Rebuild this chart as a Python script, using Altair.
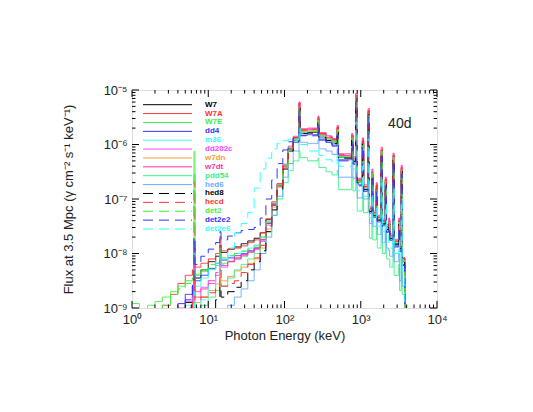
import altair as alt
import pandas as pd

# ---------------- data ----------------
# photon energy grid (keV); narrow bins are the emission lines
energy_kev = [1.0, 1.25, 1.6, 2.0, 2.5, 3.2, 4.0, 5.0, 6.2, 6.5, 6.7, 8.0, 10, 12.5, 14.2, 14.7,
              18, 22, 27, 33, 40, 48, 57, 68, 80, 95, 112, 130, 155, 160, 200, 275, 283, 350,
              420, 490, 510, 760, 790, 860, 900, 1050, 1090, 1250, 1300, 1400, 1440, 1600, 1650,
              1850, 1920, 2100, 2170, 2330, 2400, 2650, 2740, 3150, 3230, 3400, 3500, 3780]

# log10 flux (gamma cm^-2 s^-1 keV^-1) per series
W7 = [-9.8, -9.8, -9.8, -9.7, -9.5, -9.3, -9.1, -8.9, -8.6, -8.3, -8.45, -8.3, -8.15, -8.05, -7.85, -7.98,
      -7.92, -7.88, -7.82, -7.77, -7.72, -7.62, -7.38, -7.08, -6.75, -6.42, -6.12,
      -5.93, -5.32, -5.79, -5.78, -5.58, -5.86, -5.92, -5.97, -5.75, -6.24, -5.9, -6.3, -5.15, -6.7, -5.98,
      -6.82, -5.44, -7.22, -6.55, -7.3, -6.8, -7.38, -6.15, -7.45, -6.7, -7.55, -7.45, -7.72, -6.26, -7.82,
      -7.45, -7.9, -6.48, -8.15, -10]
W7A = [-9.8, -9.7, -9.5, -9.2, -8.95, -8.75, -8.55, -8.4, -8.3, -7.9, -8.25, -8.18, -8.1, -8.0, -7.69, -7.95,
       -7.92, -7.9, -7.86, -7.8, -7.75, -7.62, -7.36, -7.05, -6.72, -6.38, -6.08,
       -5.89, -5.25, -5.74, -5.73, -5.52, -5.81, -5.87, -5.92, -5.7, -6.2, -5.84, -6.26, -5.11, -6.66, -5.93,
       -6.78, -5.39, -7.18, -6.5, -7.26, -6.75, -7.34, -6.1, -7.41, -6.65, -7.51, -7.4, -7.68, -6.2, -7.78,
       -7.4, -7.86, -6.42, -8.1, -10]
W7E = [-8.92, -9.15, -8.95, -8.88, -8.8, -8.7, -8.6, -8.5, -8.45, -6.13, -8.38, -8.33, -8.27, -8.22, -8.0, -8.18,
       -8.14, -8.1, -8.05, -7.98, -7.9, -7.75, -7.45, -7.12, -6.78, -6.42, -6.1,
       -5.91, -5.29, -5.77, -5.76, -5.56, -5.84, -5.9, -5.95, -5.73, -6.23, -5.88, -6.28, -5.13, -6.69, -5.96,
       -6.8, -5.42, -7.2, -6.53, -7.28, -6.78, -7.36, -6.13, -7.43, -6.68, -7.53, -7.43, -7.7, -6.24, -7.8,
       -7.43, -7.88, -6.46, -8.13, -10]
dd4 = [-9.8, -9.8, -9.7, -9.5, -9.25, -9.05, -8.92, -8.75, -8.6, -7.9, -8.5, -8.4, -8.28, -8.18, -8.0, -8.12,
       -8.08, -8.04, -8.0, -7.95, -7.9, -7.75, -7.45, -7.1, -6.75, -6.4, -6.08,
       -5.96, -5.36, -5.83, -5.82, -5.62, -5.9, -5.96, -6.01, -5.8, -6.28, -5.94, -6.34, -5.19, -6.74, -6.02,
       -6.86, -5.48, -7.26, -6.6, -7.34, -6.84, -7.42, -6.19, -7.49, -6.74, -7.59, -7.5, -7.76, -6.3, -7.86,
       -7.5, -7.94, -6.52, -8.2, -10]
m36 = [-9.9, -9.9, -9.8, -9.7, -9.5, -9.3, -9.1, -8.95, -8.8, -8.0, -8.6, -8.45, -8.3, -8.18, -8.0, -8.1,
       -8.04, -8.0, -7.95, -7.9, -7.84, -7.7, -7.42, -7.08, -6.74, -6.4, -6.08,
       -5.92, -5.31, -5.78, -5.77, -5.57, -5.85, -5.91, -5.96, -5.74, -6.23, -5.89, -6.29, -5.14, -6.69, -5.97,
       -6.81, -5.43, -7.21, -6.54, -7.29, -6.79, -7.37, -6.14, -7.44, -6.69, -7.54, -7.44, -7.71, -6.25, -7.81,
       -7.44, -7.89, -6.47, -8.14, -10]
dd202c = [-9.9, -9.9, -9.8, -9.6, -9.4, -9.2, -9.0, -8.88, -8.75, -8.2, -8.7, -8.62, -8.55, -8.4, -8.1, -8.25,
          -8.15, -8.1, -8.04, -7.98, -7.93, -7.78, -7.48, -7.12, -6.76, -6.4, -6.07,
          -5.88, -5.26, -5.73, -5.72, -5.53, -5.81, -5.87, -5.92, -5.7, -6.2, -5.85, -6.25, -5.1, -6.65, -5.93,
          -6.77, -5.39, -7.17, -6.5, -7.25, -6.75, -7.33, -6.1, -7.4, -6.65, -7.5, -7.4, -7.67, -6.21, -7.77,
          -7.4, -7.85, -6.43, -8.1, -10]
w7dn = [-9.9, -9.9, -9.9, -9.9, -9.8, -9.6, -9.4, -9.2, -9.0, -8.5, -8.9, -8.8, -8.68, -8.56, -8.3, -8.5,
        -8.42, -8.32, -8.25, -8.18, -8.1, -7.9, -7.55, -7.15, -6.78, -6.42, -6.08,
        -5.9, -5.28, -5.76, -5.75, -5.55, -5.83, -5.89, -5.94, -5.72, -6.22, -5.87, -6.27, -5.12, -6.67, -5.95,
        -6.79, -5.41, -7.19, -6.52, -7.27, -6.77, -7.35, -6.12, -7.42, -6.67, -7.52, -7.42, -7.69, -6.23, -7.79,
        -7.42, -7.87, -6.45, -8.12, -10]
w7dt = [-9.9, -9.9, -9.9, -9.8, -9.6, -9.4, -9.2, -9.05, -8.9, -8.4, -8.8, -8.65, -8.5, -8.35, -8.1, -8.22,
        -8.15, -8.08, -8.02, -7.96, -7.9, -7.74, -7.44, -7.08, -6.72, -6.36, -6.03,
        -5.85, -5.22, -5.71, -5.7, -5.48, -5.78, -5.84, -5.89, -5.65, -6.17, -5.8, -6.22, -5.06, -6.62, -5.88,
        -6.74, -5.34, -7.14, -6.45, -7.22, -6.7, -7.3, -6.05, -7.37, -6.6, -7.47, -7.35, -7.64, -6.16, -7.74,
        -7.35, -7.82, -6.38, -8.07, -10]
pdd54 = [-10, -10, -10, -10, -10, -10, -9.7, -9.4, -9.2, -8.9, -9.1, -8.95, -8.8, -8.68, -8.5, -8.6,
         -8.45, -8.3, -8.2, -8.1, -8.0, -7.85, -7.6, -7.3, -7.0, -6.7, -6.48,
         -6.3, -6.12, -6.24, -6.3, -6.25, -6.42, -6.5, -6.56, -6.48, -6.83, -6.6, -6.85, -6.4, -7.22, -6.9,
         -7.25, -6.6, -7.72, -7.3, -7.75, -7.5, -7.9, -7.2, -8.0, -7.6, -8.1, -8.1, -8.25, -7.4, -8.4,
         -8.2, -8.68, -7.9, -8.75, -10]
hed6 = [-10, -10, -10, -10, -10, -10, -10, -10, -10, -10, -10, -10, -10, -9.8, -9.4, -9.3,
        -8.95, -8.8, -8.65, -8.5, -8.3, -8.0, -7.7, -7.3, -6.95, -6.6, -6.35,
        -6.12, -5.7, -5.96, -5.98, -5.92, -6.08, -6.12, -6.18, -6.08, -6.6, -6.35, -6.62, -5.9, -6.98, -6.6,
        -7.0, -6.2, -7.45, -7.1, -7.5, -7.3, -7.65, -6.9, -7.8, -7.4, -7.9, -7.95, -8.05, -7.1, -8.15,
        -8.0, -8.5, -7.4, -8.6, -10]
hed8 = [-10, -10, -10, -10, -10, -10, -10, -10, -9.6, -9.0, -9.5, -9.2, -9.0, -8.85, -8.6, -8.8,
        -8.7, -8.62, -8.5, -8.3, -8.15, -7.95, -7.6, -7.2, -6.82, -6.45, -6.12,
        -5.94, -5.33, -5.8, -5.79, -5.59, -5.87, -5.93, -5.98, -5.76, -6.25, -5.91, -6.31, -5.16, -6.71, -5.99,
        -6.83, -5.45, -7.23, -6.56, -7.31, -6.81, -7.39, -6.16, -7.46, -6.71, -7.56, -7.46, -7.73, -6.27, -7.83,
        -7.46, -7.91, -6.49, -8.16, -10]
hecd = [-10, -10, -10, -10, -10, -9.5, -9.2, -9.0, -8.9, -6.68, -8.85, -8.8, -8.72, -8.62, -8.3, -8.6,
        -8.55, -8.5, -8.35, -8.2, -8.08, -7.85, -7.5, -7.12, -6.76, -6.4, -6.08,
        -5.87, -5.24, -5.73, -5.72, -5.51, -5.8, -5.86, -5.91, -5.68, -6.19, -5.83, -6.25, -5.09, -6.65, -5.92,
        -6.77, -5.38, -7.17, -6.49, -7.25, -6.74, -7.33, -6.09, -7.4, -6.64, -7.5, -7.39, -7.67, -6.2, -7.77,
        -7.39, -7.85, -6.42, -8.09, -10]
det2 = [-10, -10, -10, -9.2, -8.95, -8.75, -8.65, -8.55, -8.45, -6.5, -8.4, -8.3, -8.2, -8.12, -7.9, -8.08,
        -8.04, -8.0, -7.96, -7.92, -7.86, -7.7, -7.42, -7.08, -6.74, -6.38, -6.06,
        -5.9, -5.3, -5.77, -5.76, -5.56, -5.84, -5.9, -5.95, -5.73, -6.22, -5.88, -6.28, -5.13, -6.68, -5.96,
        -6.8, -5.42, -7.2, -6.53, -7.28, -6.78, -7.36, -6.13, -7.43, -6.68, -7.53, -7.43, -7.7, -6.24, -7.8,
        -7.43, -7.88, -6.46, -8.13, -10]
det2e2 = [-10, -10, -10, -10, -10, -9.6, -9.2, -8.85, -8.5, -7.7, -8.2, -8.05, -7.92, -7.8, -7.6, -7.75,
          -7.68, -7.62, -7.58, -7.56, -7.52, -7.35, -7.0, -6.65, -6.35, -6.1, -5.95,
          -5.88, -5.38, -5.84, -5.84, -5.64, -5.92, -5.98, -6.03, -5.82, -6.3, -5.96, -6.36, -5.21, -6.76, -6.04,
          -6.88, -5.5, -7.28, -6.62, -7.36, -6.86, -7.44, -6.21, -7.51, -6.76, -7.61, -7.52, -7.78, -6.32, -7.88,
          -7.52, -7.96, -6.54, -8.22, -10]
det2e6 = [-10, -10, -10, -10, -10, -10, -10, -9.6, -9.2, -8.7, -9.0, -8.85, -8.6, -8.35, -8.1, -8.2,
          -7.9, -7.62, -7.45, -7.25, -6.8, -6.45, -6.25, -6.08, -5.98, -5.93, -5.9,
          -5.92, -5.7, -6.0, -6.12, -6.05, -6.2, -6.28, -6.35, -6.2, -6.4, -6.3, -6.45, -5.6, -6.85, -6.4,
          -6.95, -5.9, -7.35, -6.9, -7.4, -7.1, -7.5, -6.6, -7.6, -7.1, -7.65, -7.8, -7.9, -6.8, -8.0,
          -7.8, -8.1, -7.0, -8.35, -10]

series_names = ["W7", "W7A", "W7E", "dd4", "m36", "dd202c", "w7dn", "w7dt", "pdd54", "hed6",
                "hed8", "hecd", "det2", "det2e2", "det2e6"]
series_values = [W7, W7A, W7E, dd4, m36, dd202c, w7dn, w7dt, pdd54, hed6,
                 hed8, hecd, det2, det2e2, det2e6]
series_colors = ["#000000", "#ff3333", "#44ee44", "#3333ff", "#33ffff", "#ff44ff", "#ff9933", "#ff3399",
                 "#3ef08a", "#66aaff", "#000000", "#ff3333", "#44ee44", "#3333ff", "#33ffff"]
solid, dashed = [1, 0], [10, 6]
series_dashes = [solid] * 10 + [dashed] * 5
legend_widths = [1, 1, 1, 1, 1, 1, 1, 1, 1, 2, 1, 1, 1, 1, 1]

x_major = [1, 10, 100, 1000, 10000]
y_major = [1e-9, 1e-8, 1e-7, 1e-6, 1e-5]
x_minor = [m * 10 ** k for k in range(0, 4) for m in range(2, 10)]
y_minor = [m * 10.0 ** k for k in range(-9, -5) for m in range(2, 10)]

annot_energy, annot_flux, annot_text = [3250], [2.4e-6], ["40d"]

# ---------------- build tables ----------------
rows = []
for name, vals in zip(series_names, series_values):
    assert len(vals) == len(energy_kev), (name, len(vals))
    for e, v in zip(energy_kev, vals):
        rows.append({"series": name, "energy": e, "flux": 10.0 ** v})
df = pd.DataFrame(rows)

W, H = 305, 218
FONT = "Liberation Sans"
xscale = alt.Scale(type="log", domain=[1, 10000], nice=False)
yscale = alt.Scale(type="log", domain=[1e-9, 1e-5], nice=False)
cscale = alt.Scale(domain=series_names, range=series_colors)
dscale = alt.Scale(domain=series_names, range=series_dashes)

xaxis = alt.Axis(values=x_major, ticks=False, domain=False, grid=False, labelFlush=False,
                 labelOverlap=False, labelFont=FONT, labelFontSize=13, labelColor="#222",
                 labelPadding=5, title="Photon Energy (keV)", titleFont=FONT, titleFontSize=13,
                 titleFontWeight="normal", titleColor="#222", titlePadding=3,
                 labelExpr="datum.value < 5 ? '10⁰' : datum.value < 50 ? '10¹' : datum.value < 500 ? '10²' : datum.value < 5000 ? '10³' : '10⁴'")
yaxis = alt.Axis(values=y_major, ticks=False, domain=False, grid=False, labelFlush=False,
                 labelOverlap=False, labelFont=FONT, labelFontSize=13, labelColor="#222",
                 labelPadding=5, title="Flux at 3.5 Mpc (γ cm⁻² s⁻¹ keV⁻¹)", titleFont=FONT,
                 titleFontSize=13, titleFontWeight="normal", titleColor="#222", titlePadding=27,
                 labelExpr="datum.value < 5e-9 ? '10⁻⁹' : datum.value < 5e-8 ? '10⁻⁸' : datum.value < 5e-7 ? '10⁻⁷' : datum.value < 5e-6 ? '10⁻⁶' : '10⁻⁵'")

lines = alt.Chart(df).mark_line(interpolate="step-after", strokeWidth=1, clip=True).encode(
    x=alt.X("energy:Q", scale=xscale, axis=xaxis),
    y=alt.Y("flux:Q", scale=yscale, axis=yaxis),
    color=alt.Color("series:N", scale=cscale, legend=None),
    strokeDash=alt.StrokeDash("series:N", scale=dscale, legend=None),
    detail="series:N",
)


def xticks(vals, length, top):
    d = pd.DataFrame({"energy": vals})
    y0 = 0 if top else H
    y1 = length if top else H - length
    return alt.Chart(d).mark_rule(color="black", strokeWidth=1).encode(
        x=alt.X("energy:Q", scale=xscale, axis=xaxis), y=alt.value(y0), y2=alt.value(y1))


def yticks(vals, length, right):
    d = pd.DataFrame({"flux": vals})
    x0 = W if right else 0
    x1 = W - length if right else length
    return alt.Chart(d).mark_rule(color="black", strokeWidth=1).encode(
        y=alt.Y("flux:Q", scale=yscale, axis=yaxis), x=alt.value(x0), x2=alt.value(x1))


ticks = [xticks(x_major, 7, False), xticks(x_minor, 3.5, False),
         xticks(x_major, 7, True), xticks(x_minor, 3.5, True),
         yticks(y_major, 7, False), yticks(y_minor, 3.5, False),
         yticks(y_major, 7, True), yticks(y_minor, 3.5, True)]

annot = alt.Chart(pd.DataFrame({"energy": annot_energy, "flux": annot_flux, "t": annot_text})).mark_text(
    font=FONT, fontSize=14, color="#222").encode(
    x=alt.X("energy:Q", scale=xscale, axis=xaxis), y=alt.Y("flux:Q", scale=yscale, axis=yaxis), text="t:N")

main = alt.layer(lines, *ticks, annot)

leg_df = pd.DataFrame({"series": series_names})
leg_y = alt.Y("series:N", sort=series_names,
              scale=alt.Scale(type="point", domain=series_names, range=[14.7, 139], padding=0), axis=None)
leg_lines = alt.Chart(leg_df).mark_rule().encode(
    x=alt.value(11), x2=alt.value(60), y=leg_y,
    color=alt.Color("series:N", scale=cscale, legend=None),
    strokeDash=alt.StrokeDash("series:N", scale=dscale, legend=None),
    strokeWidth=alt.StrokeWidth("series:N", scale=alt.Scale(domain=series_names, range=legend_widths), legend=None),
)
leg_text = alt.Chart(leg_df).mark_text(align="left", baseline="middle", font=FONT, fontSize=8,
                                        fontWeight="bold").encode(
    x=alt.value(73), y=leg_y, text="series:N",
    color=alt.Color("series:N", scale=cscale, legend=None),
)
legend = alt.layer(leg_lines, leg_text)

chart = alt.layer(main, legend).resolve_scale(y="independent").properties(
    width=W, height=H,
    autosize=alt.AutoSizeParams(type="none"),
    padding={"left": 124, "top": 82, "right": 88, "bottom": 96},
).configure_view(stroke="black", strokeWidth=1).configure(background="white")

chart.save("out.html", embed_options={"renderer": "svg", "actions": False})
